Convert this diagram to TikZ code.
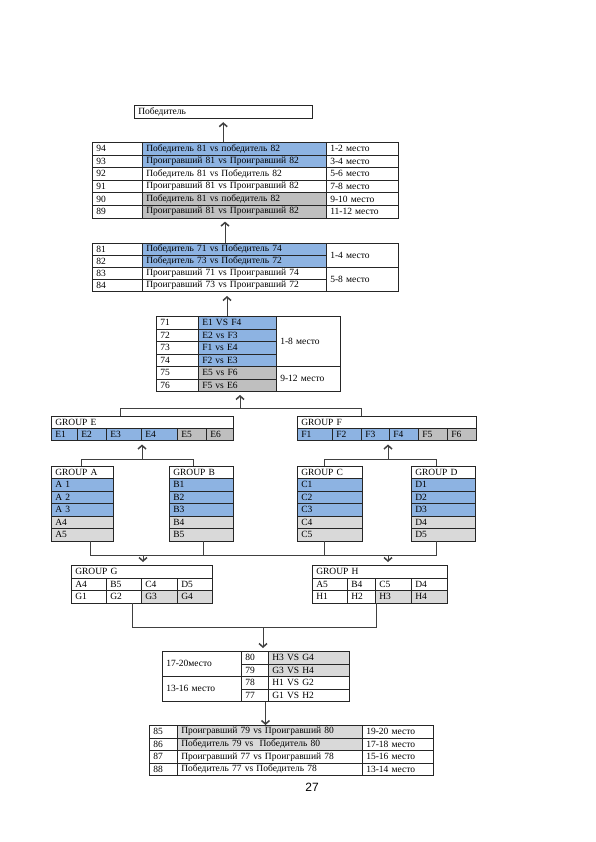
\documentclass[tikz,border=0pt]{standalone}
\usepackage{fontspec}
\setmainfont{Liberation Serif}
\newfontfamily\pagefont{Liberation Sans}
\usetikzlibrary{arrows.meta}
\definecolor{tblue}{RGB}{141,179,226}
\definecolor{tgray}{RGB}{191,191,191}
\definecolor{tlgray}{RGB}{217,217,217}
\tikzset{cell/.style 2 args = {draw=black!85, line width=0.5pt, anchor=north west,
                               inner xsep=4pt, inner ysep=0pt, align=left,
                               text width=#1, minimum height=#2}}
\tikzset{link/.style = {draw=black!75, line width=0.7pt}}
\tikzset{pointer/.style = {link, -{Straight Barb[length=3.5pt,width=8pt,line width=1.5pt]}}}

\begin{document}
\begin{tikzpicture}[x=1pt, y=-1pt, font=\fontsize{9.5}{11}\selectfont]
        \path[fill=white] (0,0) rectangle (595,842);
        \useasboundingbox (0,0) rectangle (595,842);
        % final
        \node[cell={170pt}{12.7pt}] (winner) at (134,105) {Победитель};
        % matches 89 -- 94
        \node[cell={42pt}{12.6pt}] (n94) at (92,142) {94};
        \node[cell={176pt}{12.6pt}, fill=tblue] (m94) at (142,142) {Победитель 81 vs победитель 82};
        \node[cell={64pt}{12.6pt}] (p94) at (326,142) {1-2 место};
        \node[cell={42pt}{12.6pt}] (n93) at (92,154.6) {93};
        \node[cell={176pt}{12.6pt}, fill=tblue] (m93) at (142,154.6) {Проигравший 81 vs Проигравший 82};
        \node[cell={64pt}{12.6pt}] (p93) at (326,154.6) {3-4 место};
        \node[cell={42pt}{12.6pt}] (n92) at (92,167.2) {92};
        \node[cell={176pt}{12.6pt}] (m92) at (142,167.2) {Победитель 81 vs Победитель 82};
        \node[cell={64pt}{12.6pt}] (p92) at (326,167.2) {5-6 место};
        \node[cell={42pt}{12.6pt}] (n91) at (92,179.8) {91};
        \node[cell={176pt}{12.6pt}] (m91) at (142,179.8) {Проигравший 81 vs Проигравший 82};
        \node[cell={64pt}{12.6pt}] (p91) at (326,179.8) {7-8 место};
        \node[cell={42pt}{12.6pt}] (n90) at (92,192.4) {90};
        \node[cell={176pt}{12.6pt}, fill=tgray] (m90) at (142,192.4) {Победитель 81 vs победитель 82};
        \node[cell={64pt}{12.6pt}] (p90) at (326,192.4) {9-10 место};
        \node[cell={42pt}{12.6pt}] (n89) at (92,205) {89};
        \node[cell={176pt}{12.6pt}, fill=tgray] (m89) at (142,205) {Проигравший 81 vs Проигравший 82};
        \node[cell={64pt}{12.6pt}] (p89) at (326,205) {11-12 место};
        % matches 81 -- 84
        \node[cell={42pt}{12pt}] (n81) at (92,243) {81};
        \node[cell={176pt}{12pt}, fill=tblue] (m81) at (142,243) {Победитель 71 vs Победитель 74};
        \node[cell={42pt}{12pt}] (n82) at (92,255) {82};
        \node[cell={176pt}{12pt}, fill=tblue] (m82) at (142,255) {Победитель 73 vs Победитель 72};
        \node[cell={42pt}{12pt}] (n83) at (92,267) {83};
        \node[cell={176pt}{12pt}] (m83) at (142,267) {Проигравший 71 vs Проигравший 74};
        \node[cell={42pt}{12pt}] (n84) at (92,279) {84};
        \node[cell={176pt}{12pt}] (m84) at (142,279) {Проигравший 73 vs Проигравший 72};
        \node[cell={64pt}{24pt}] (p81) at (326,243) {1-4 место};
        \node[cell={64pt}{24pt}] (p83) at (326,267) {5-8 место};
        % matches 71 -- 76
        \node[cell={34pt}{12.5pt}] (n71) at (156,316) {71};
        \node[cell={70pt}{12.5pt}, fill=tblue] (m71) at (198,316) {E1 VS F4};
        \node[cell={34pt}{12.5pt}] (n72) at (156,328.5) {72};
        \node[cell={70pt}{12.5pt}, fill=tblue] (m72) at (198,328.5) {E2 vs F3};
        \node[cell={34pt}{12.5pt}] (n73) at (156,341) {73};
        \node[cell={70pt}{12.5pt}, fill=tblue] (m73) at (198,341) {F1 vs E4};
        \node[cell={34pt}{12.5pt}] (n74) at (156,353.5) {74};
        \node[cell={70pt}{12.5pt}, fill=tblue] (m74) at (198,353.5) {F2 vs E3};
        \node[cell={34pt}{12.5pt}] (n75) at (156,366) {75};
        \node[cell={70pt}{12.5pt}, fill=tgray] (m75) at (198,366) {E5 vs F6};
        \node[cell={34pt}{12.5pt}] (n76) at (156,378.5) {76};
        \node[cell={70pt}{12.5pt}, fill=tgray] (m76) at (198,378.5) {F5 vs E6};
        \node[cell={56pt}{50pt}] (p71) at (276,316) {1-8 место};
        \node[cell={56pt}{25pt}] (p75) at (276,366) {9-12 место};
        % group E
        \node[cell={174pt}{12pt}] (hE) at (51,416) {GROUP E};
        \node[cell={18pt}{12pt}, fill=tblue] (E1) at (51,428) {E1};
        \node[cell={21pt}{12pt}, fill=tblue] (E2) at (77,428) {E2};
        \node[cell={27pt}{12pt}, fill=tblue] (E3) at (106,428) {E3};
        \node[cell={28pt}{12pt}, fill=tblue] (E4) at (141,428) {E4};
        \node[cell={21pt}{12pt}, fill=tgray] (E5) at (177,428) {E5};
        \node[cell={19pt}{12pt}, fill=tgray] (E6) at (206,428) {E6};
        % group F
        \node[cell={171pt}{12pt}] (hF) at (297,416) {GROUP F};
        \node[cell={27pt}{12pt}, fill=tblue] (F1) at (297,428) {F1};
        \node[cell={21pt}{12pt}, fill=tblue] (F2) at (332,428) {F2};
        \node[cell={20pt}{12pt}, fill=tblue] (F3) at (361,428) {F3};
        \node[cell={21pt}{12pt}, fill=tblue] (F4) at (389,428) {F4};
        \node[cell={21pt}{12pt}, fill=tgray] (F5) at (418,428) {F5};
        \node[cell={21pt}{12pt}, fill=tgray] (F6) at (447,428) {F6};
        % groups A -- D
        \node[cell={54pt}{12pt}] (hA) at (51,466) {GROUP A};
        \node[cell={54pt}{12.5pt}, fill=tblue] (A1) at (51,478) {A 1};
        \node[cell={54pt}{12.5pt}, fill=tblue] (A2) at (51,490.5) {A 2};
        \node[cell={54pt}{12.5pt}, fill=tblue] (A3) at (51,503) {A 3};
        \node[cell={54pt}{12.5pt}, fill=tlgray] (A4) at (51,515.5) {A4};
        \node[cell={54pt}{12.5pt}, fill=tlgray] (A5) at (51,528) {A5};
        \node[cell={56pt}{12pt}] (hB) at (169,466) {GROUP B};
        \node[cell={56pt}{12.5pt}, fill=tblue] (B1) at (169,478) {B1};
        \node[cell={56pt}{12.5pt}, fill=tblue] (B2) at (169,490.5) {B2};
        \node[cell={56pt}{12.5pt}, fill=tblue] (B3) at (169,503) {B3};
        \node[cell={56pt}{12.5pt}, fill=tlgray] (B4) at (169,515.5) {B4};
        \node[cell={56pt}{12.5pt}, fill=tlgray] (B5) at (169,528) {B5};
        \node[cell={57pt}{12pt}] (hC) at (297,466) {GROUP C};
        \node[cell={57pt}{12.5pt}, fill=tblue] (C1) at (297,478) {C1};
        \node[cell={57pt}{12.5pt}, fill=tblue] (C2) at (297,490.5) {C2};
        \node[cell={57pt}{12.5pt}, fill=tblue] (C3) at (297,503) {C3};
        \node[cell={57pt}{12.5pt}, fill=tlgray] (C4) at (297,515.5) {C4};
        \node[cell={57pt}{12.5pt}, fill=tlgray] (C5) at (297,528) {C5};
        \node[cell={56pt}{12pt}] (hD) at (411,466) {GROUP D};
        \node[cell={56pt}{12.5pt}, fill=tblue] (D1) at (411,478) {D1};
        \node[cell={56pt}{12.5pt}, fill=tblue] (D2) at (411,490.5) {D2};
        \node[cell={56pt}{12.5pt}, fill=tblue] (D3) at (411,503) {D3};
        \node[cell={56pt}{12.5pt}, fill=tlgray] (D4) at (411,515.5) {D4};
        \node[cell={56pt}{12.5pt}, fill=tlgray] (D5) at (411,528) {D5};
        % group G
        \node[cell={133pt}{13pt}] (hG) at (71,564.5) {GROUP G};
        \node[cell={27pt}{12.5pt}] (gs1) at (71,577.5) {A4};
        \node[cell={27pt}{12.5pt}] (gs2) at (106,577.5) {B5};
        \node[cell={28pt}{12.5pt}] (gs3) at (141,577.5) {C4};
        \node[cell={27pt}{12.5pt}] (gs4) at (177,577.5) {D5};
        \node[cell={27pt}{12.5pt}] (G1) at (71,590) {G1};
        \node[cell={27pt}{12.5pt}] (G2) at (106,590) {G2};
        \node[cell={28pt}{12.5pt}, fill=tlgray] (G3) at (141,590) {G3};
        \node[cell={27pt}{12.5pt}, fill=tlgray] (G4) at (177,590) {G4};
        % group H
        \node[cell={127pt}{13pt}] (hH) at (312,564.5) {GROUP H};
        \node[cell={27pt}{12.5pt}] (hs1) at (312,577.5) {A5};
        \node[cell={20pt}{12.5pt}] (hs2) at (347,577.5) {B4};
        \node[cell={28pt}{12.5pt}] (hs3) at (375,577.5) {C5};
        \node[cell={28pt}{12.5pt}] (hs4) at (411,577.5) {D4};
        \node[cell={27pt}{12.5pt}] (H1) at (312,590) {H1};
        \node[cell={20pt}{12.5pt}] (H2) at (347,590) {H2};
        \node[cell={28pt}{12.5pt}, fill=tlgray] (H3) at (375,590) {H3};
        \node[cell={28pt}{12.5pt}, fill=tlgray] (H4) at (411,590) {H4};
        % matches 77 -- 80
        \node[cell={71pt}{25pt}] (p80) at (162,651) {17-20место};
        \node[cell={71pt}{25pt}] (p78) at (162,676) {13-16 место};
        \node[cell={19pt}{12.5pt}] (n80) at (241,651) {80};
        \node[cell={73pt}{12.5pt}, fill=tlgray] (m80) at (268,651) {H3 VS G4};
        \node[cell={19pt}{12.5pt}] (n79) at (241,663.5) {79};
        \node[cell={73pt}{12.5pt}, fill=tlgray] (m79) at (268,663.5) {G3 VS H4};
        \node[cell={19pt}{12.5pt}] (n78) at (241,676) {78};
        \node[cell={73pt}{12.5pt}] (m78) at (268,676) {H1 VS G2};
        \node[cell={19pt}{12.5pt}] (n77) at (241,688.5) {77};
        \node[cell={73pt}{12.5pt}] (m77) at (268,688.5) {G1 VS H2};
        % matches 85 -- 88
        \node[cell={20pt}{12.6pt}] (n85) at (149,725) {85};
        \node[cell={177pt}{12.6pt}, fill=tlgray] (m85) at (177,725) {Проигравший 79 vs Проигравший 80};
        \node[cell={63pt}{12.6pt}] (p85) at (362,725) {19-20 место};
        \node[cell={20pt}{12.6pt}] (n86) at (149,737.6) {86};
        \node[cell={177pt}{12.6pt}, fill=tlgray] (m86) at (177,737.6) {Победитель 79 vs~ Победитель 80};
        \node[cell={63pt}{12.6pt}] (p86) at (362,737.6) {17-18 место};
        \node[cell={20pt}{12.6pt}] (n87) at (149,750.2) {87};
        \node[cell={177pt}{12.6pt}] (m87) at (177,750.2) {Проигравший 77 vs Проигравший 78};
        \node[cell={63pt}{12.6pt}] (p87) at (362,750.2) {15-16 место};
        \node[cell={20pt}{12.6pt}] (n88) at (149,762.8) {88};
        \node[cell={177pt}{12.6pt}] (m88) at (177,762.8) {Победитель 77 vs Победитель 78};
        \node[cell={63pt}{12.6pt}] (p88) at (362,762.8) {13-14 место};
        \node[font={\pagefont\fontsize{12}{14}\selectfont}] (page) at (312,787) {27};
        % joints of the connectors
        \coordinate (s2) at (225,0);
        \coordinate (s3) at (227,0);
        \coordinate (edrop) at (120,408.5);
        \coordinate (efjoin) at (240,408.5);
        \coordinate (fdrop) at (361,408.5);
        \coordinate (adrop) at (81,459);
        \coordinate (abjoin) at (142,459);
        \coordinate (bdrop) at (193,459);
        \coordinate (cdrop) at (324,459);
        \coordinate (cdjoin) at (388,459);
        \coordinate (ddrop) at (436,459);
        \coordinate (ajoin) at (90,555);
        \coordinate (gjoin) at (143,555);
        \coordinate (bjoin) at (203,555);
        \coordinate (cjoin) at (324,555);
        \coordinate (hjoin) at (388,555);
        \coordinate (djoin) at (436,555);
        \coordinate (gdrop) at (132,627.5);
        \coordinate (t4join) at (263,627.5);
        \coordinate (hdrop) at (376,627.5);
        \coordinate (s5) at (265.5,0);
        % connectors
        \draw[pointer, shorten >=4pt] (m94.north -| winner.south) -- (winner.south);
        \draw[pointer, shorten >=3.5pt] (m81.north -| s2) -- (m89.south -| s2);
        \draw[pointer, shorten >=4.5pt] (m71.north -| s3) -- (m84.south -| s3);
        \draw[link] (hE.north -| edrop) -- (edrop) -- (fdrop) -- (hF.north -| fdrop);
        \draw[pointer, shorten >=3.5pt] (efjoin) -- (m76.south -| efjoin);
        \draw[link] (hA.north -| adrop) -- (adrop) -- (bdrop) -- (hB.north -| bdrop);
        \draw[pointer, shorten >=4pt] (abjoin) -- (E4.south -| abjoin);
        \draw[link] (hC.north -| cdrop) -- (cdrop) -- (ddrop) -- (hD.north -| ddrop);
        \draw[pointer, shorten >=4pt] (cdjoin) -- (F4.south -| cdjoin);
        \draw[link] (A5.south -| ajoin) -- (ajoin) -- (djoin) -- (D5.south -| djoin);
        \draw[link] (B5.south -| bjoin) -- (bjoin);
        \draw[link] (C5.south -| cjoin) -- (cjoin);
        \draw[pointer, shorten >=2.5pt] (gjoin) -- (hG.north -| gjoin);
        \draw[pointer, shorten >=2.5pt] (hjoin) -- (hH.north -| hjoin);
        \draw[link] (G2.south -| gdrop) -- (gdrop) -- (hdrop) -- (H3.south -| hdrop);
        \draw[pointer, shorten >=3pt] (t4join) -- (n80.north -| t4join);
        \draw[pointer] (n77.south -| s5) -- (m85.north -| s5);
    \end{tikzpicture}
\end{document}
